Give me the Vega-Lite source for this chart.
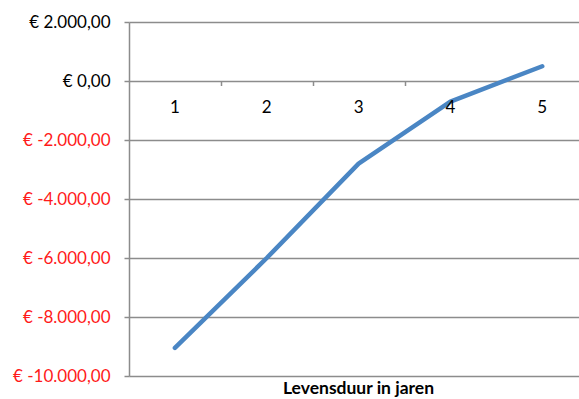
{
  "$schema": "https://vega.github.io/schema/vega-lite/v6.json",
  "width": 450,
  "height": 354,
  "autosize": {"type": "none"},
  "padding": {"left": 129, "top": 22, "right": 0, "bottom": 23},
  "background": "white",
  "config": {
    "view": {"stroke": null},
    "font": "Lato"
  },
  "data": {
    "values": [
      {"jaar": 1, "waarde": -9050},
      {"jaar": 2, "waarde": -6000},
      {"jaar": 3, "waarde": -2800},
      {"jaar": 4, "waarde": -700},
      {"jaar": 5, "waarde": 500}
    ]
  },
  "layer": [
    {
      "mark": {"type": "line", "color": "#4a86c4", "strokeWidth": 4.5, "strokeCap": "round", "strokeJoin": "round"},
      "encoding": {
        "x": {
          "field": "jaar",
          "type": "quantitative",
          "scale": {"domain": [0.5, 5.4], "nice": false, "zero": false},
          "axis": {
            "orient": "bottom",
            "offset": -295.5,
            "values": [1.5, 2.5, 3.5, 4.5],
            "labels": false,
            "grid": false,
            "domain": false,
            "ticks": true,
            "tickSize": 5,
            "tickWidth": 1.5,
            "tickColor": "#8c8c8c",
            "title": "Levensduur in jaren",
            "titleFont": "Lato",
            "titleFontSize": 17.5,
            "titleFontWeight": "bold",
            "titleColor": "black",
            "titleAnchor": "start",
            "titleAlign": "center",
            "titleBaseline": "alphabetic",
            "titleX": 229,
            "titleY": 313
          }
        },
        "y": {
          "field": "waarde",
          "type": "quantitative",
          "scale": {"domain": [-10000, 2000], "nice": false},
          "axis": {
            "values": [-10000, -8000, -6000, -4000, -2000, 0, 2000],
            "title": null,
            "grid": true,
            "gridColor": "#8c8c8c",
            "gridWidth": 1.5,
            "domain": true,
            "domainColor": "#8c8c8c",
            "domainWidth": 1.5,
            "ticks": true,
            "tickSize": 5,
            "tickColor": "#8c8c8c",
            "tickWidth": 1.5,
            "labelPadding": 14,
            "labelFont": "Lato",
            "labelFontSize": 17,
            "labelColor": {"condition": {"test": "datum.value < 0", "value": "#ff1a1a"}, "value": "black"},
            "labelExpr": "'€ ' + replace(replace(replace(replace(format(datum.value, ',.2f'), ',', '#'), '.', ','), '#', '.'), '−', '-')"
          }
        }
      }
    },
    {
      "mark": {"type": "text", "dy": 27, "fontSize": 17, "font": "Lato", "color": "black"},
      "encoding": {
        "x": {"field": "jaar", "type": "quantitative"},
        "y": {"datum": 0, "type": "quantitative"},
        "text": {"field": "jaar", "type": "nominal"}
      }
    }
  ]
}
